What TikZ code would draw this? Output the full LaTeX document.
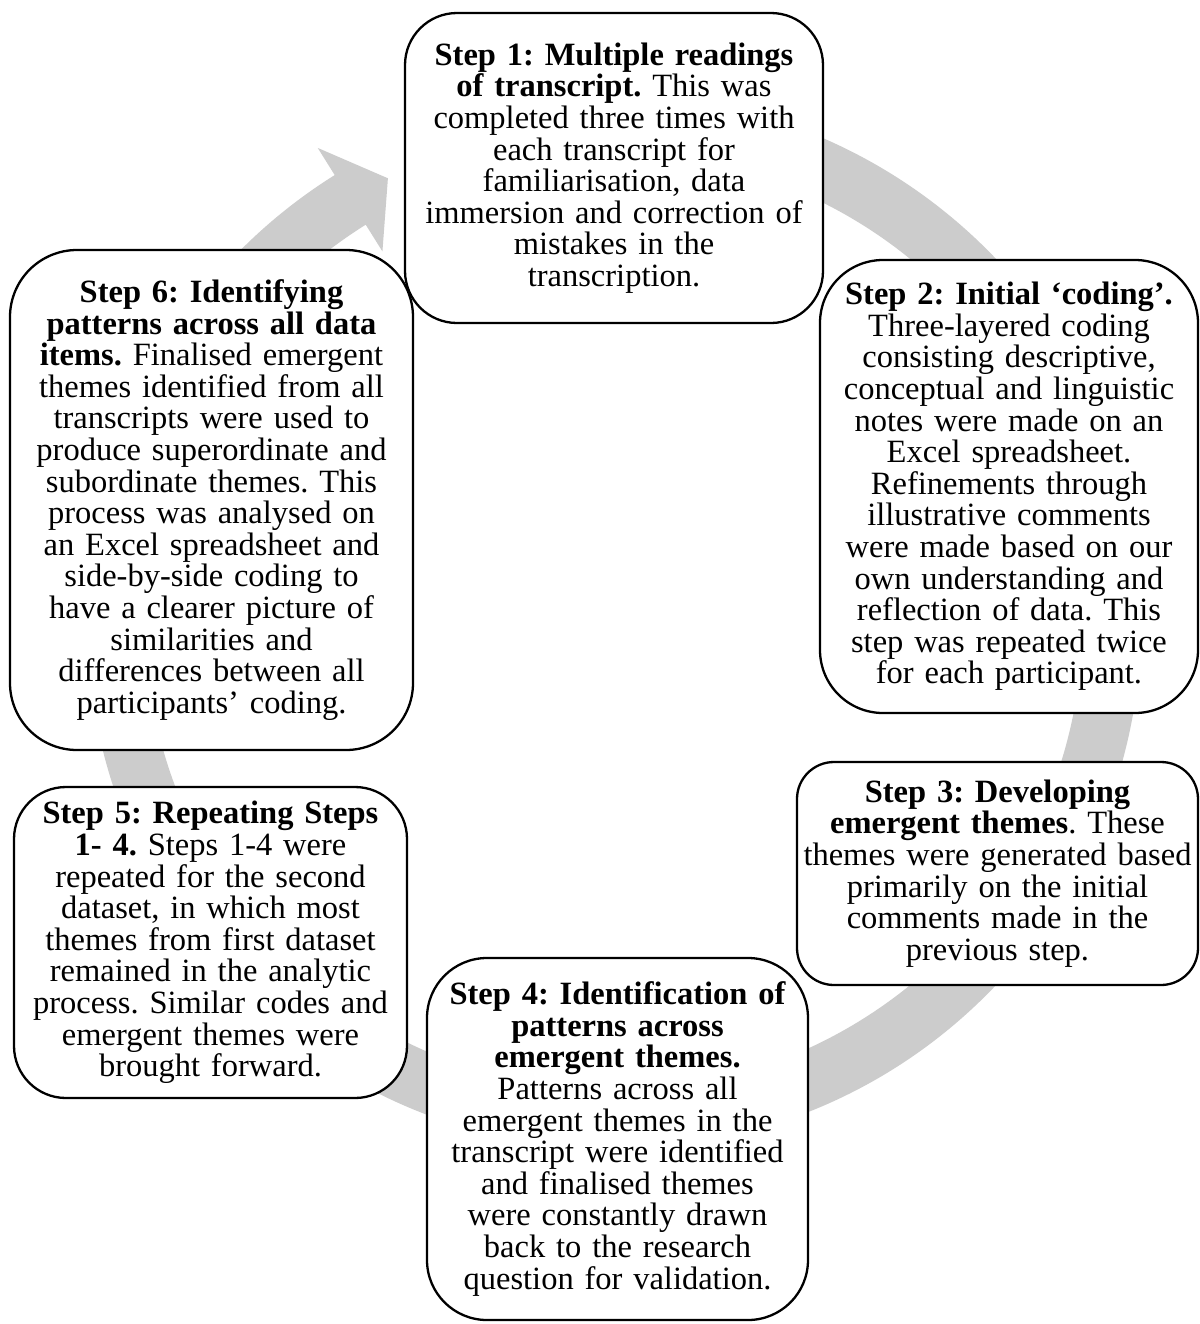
\documentclass[tikz,border=0pt]{standalone}
\usepackage{fontspec}
\setmainfont{Liberation Serif}
\definecolor{ringgray}{RGB}{204,204,204}
\begin{document}
\frenchspacing
\begin{tikzpicture}[x=0.5pt,y=-0.5pt,
  stepbox/.style={draw=black, fill=white, line width=1.15pt, rectangle, inner sep=0pt},
  steptext/.style={align=center, text width=240pt, inner sep=0pt,
    font=\fontsize{16.25pt}{15.8pt}\selectfont\frenchspacing}]
\fill[white] (0,0) rectangle (1200,1324);
\useasboundingbox (0,0) rectangle (1200,1324);
% circular arrow
\begin{scope}[shift={(614,622)}]
\fill[ringgray] (-100:527) arc[start angle=-100, end angle=238, radius=527]
  -- (238:559) -- (243:498) -- (238:437) -- (238:468.5)
  arc[start angle=238, end angle=-100, radius=468.5] -- cycle;
\end{scope}
% boxes
\node[stepbox, minimum width=209pt, minimum height=155pt, rounded corners=26pt] (b1) at (614,168) {};
\node[stepbox, minimum width=189pt, minimum height=226.5pt, rounded corners=31.5pt] (b2) at (1009,486.5) {};
\node[stepbox, minimum width=200.5pt, minimum height=111.5pt, rounded corners=18.5pt] (b3) at (997.5,873.5) {};
\node[stepbox, minimum width=190.5pt, minimum height=181pt, rounded corners=30pt] (b4) at (617.5,1139) {};
\node[stepbox, minimum width=196.5pt, minimum height=155.5pt, rounded corners=26pt] (b5) at (210.5,942.5) {};
\node[stepbox, minimum width=201.5pt, minimum height=250pt, rounded corners=33.5pt] (b6) at (211.5,500) {};
% texts
\node[steptext] (t1) at (b1.center) {\textbf{Step 1: Multiple readings\\ of transcript.} This was\\ completed three times with\\ each transcript for\\ familiarisation, data\\ immersion and correction of\\ mistakes in the\\ transcription.};
\node[steptext] (t2) at (b2.center) {\textbf{Step 2: Initial ‘coding’.}\\ Three-layered coding\\ consisting descriptive,\\ conceptual and linguistic\\ notes were made on an\\ Excel spreadsheet.\\ Refinements through\\ illustrative comments\\ were made based on our\\ own understanding and\\ reflection of data. This\\ step was repeated twice\\ for each participant.};
\node[steptext] (t3) at (b3.center) {\textbf{Step 3: Developing\\ emergent themes}. These\\ themes were generated based\\ primarily on the initial\\ comments made in the\\ previous step.};
\node[steptext] (t4) at (b4.center) {\textbf{Step 4: Identification of\\ patterns across\\ emergent themes.}\\ Patterns across all\\ emergent themes in the\\ transcript were identified\\ and finalised themes\\ were constantly drawn\\ back to the research\\ question for validation.};
\node[steptext] (t5) at (b5.center) {\textbf{Step 5: Repeating Steps\\ 1- 4.} Steps 1-4 were\\ repeated for the second\\ dataset, in which most\\ themes from first dataset\\ remained in the analytic\\ process. Similar codes and\\ emergent themes were\\ brought forward.};
\node[steptext] (t6) at (b6.center) {\textbf{Step 6: Identifying\\ patterns across all data\\ items.} Finalised emergent\\ themes identified from all\\ transcripts were used to\\ produce superordinate and\\ subordinate themes. This\\ process was analysed on\\ an Excel spreadsheet and\\ side-by-side coding to\\ have a clearer picture of\\ similarities and\\ differences between all\\ participants’ coding.};
\end{tikzpicture}
\end{document}
